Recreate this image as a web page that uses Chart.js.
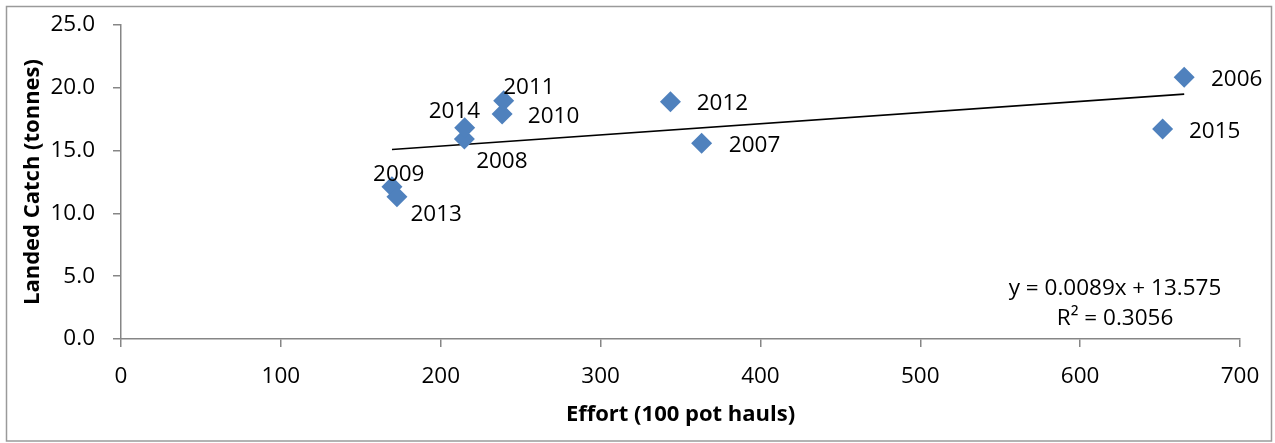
<!DOCTYPE html>
<html>
<head>
<meta charset="utf-8">
<title>Landed Catch vs Effort</title>
<script src="https://cdn.jsdelivr.net/npm/chart.js@4/dist/chart.umd.min.js"></script>
<style>
  html, body { margin: 0; padding: 0; background: #ffffff; }
  #wrap { position: relative; width: 1275px; height: 443px; }
</style>
</head>
<body>
<div id="wrap"><canvas id="c" width="1275" height="443"></canvas></div>
<script>
// Season labels and the paired effort / catch values
const years = ['2006', '2007', '2008', '2009', '2010', '2011', '2012', '2013', '2014', '2015'];
const effort = [665.1, 363.2, 214.8, 169.5, 238.4, 239.4, 343.7, 172.6, 215.0, 651.6];
const landedCatch = [20.84, 15.58, 15.92, 12.13, 17.91, 18.97, 18.89, 11.33, 16.82, 16.72];

// Linear trend fitted to the points
const trendSlope = 0.0089;
const trendIntercept = 13.575;
const trendR2 = 0.3056;

// Axis ranges
const xRange = { min: 0, max: 700, step: 100 };
const yRange = { min: 0, max: 25, step: 5 };

// Where each year label sits relative to its marker (px, centre of text)
const labelOffsets = [
  [52.5, 0.5], [53, 0.5], [37.5, 21], [6.8, -13.7], [51.5, 1],
  [25.2, -15.2], [52, 0.5], [39.3, 16.3], [-10.3, -17.7], [52, 1]
];

const FONT = "'Open Sans', 'DejaVu Sans', sans-serif";
const AXIS_GREY = '#868686';

const points = effort.map((x, i) => ({ x: x, y: landedCatch[i] }));
const xLo = Math.min(...effort), xHi = Math.max(...effort);
const trendPoints = [xLo, xHi].map(x => ({ x: x, y: trendSlope * x + trendIntercept }));

const fmt = (v, d) => v.toFixed(d);

// Outer frame around the whole chart
const framePlugin = {
  id: 'frame',
  beforeDraw(chart) {
    const ctx = chart.ctx;
    ctx.save();
    ctx.strokeStyle = '#9a9a9a';
    ctx.lineWidth = 1.5;
    ctx.strokeRect(6.5, 6.5, 1265, 434.5);
    ctx.restore();
  }
};

// Year labels beside the markers, plus the trend equation
const labelPlugin = {
  id: 'yearLabels',
  afterDatasetsDraw(chart) {
    const ctx = chart.ctx;
    const meta = chart.getDatasetMeta(1);
    ctx.save();
    ctx.fillStyle = '#000000';
    ctx.font = '22.5px ' + FONT;
    ctx.textAlign = 'center';
    ctx.textBaseline = 'alphabetic';
    meta.data.forEach((pt, i) => {
      const [dx, dy] = labelOffsets[i];
      ctx.fillText(years[i], pt.x + dx, pt.y + dy + 8);
    });
    const area = chart.chartArea;
    const cx = area.right - 125;
    ctx.fillText('y = ' + fmt(trendSlope, 4) + 'x + ' + fmt(trendIntercept, 3), cx, area.bottom - 52 + 8);
    ctx.fillText('R\u00B2 = ' + fmt(trendR2, 4), cx, area.bottom - 22 + 8);
    ctx.restore();
  }
};

new Chart(document.getElementById('c'), {
  type: 'scatter',
  data: {
    datasets: [
      {
        type: 'line',
        label: 'Linear trend',
        data: trendPoints,
        borderColor: '#000000',
        borderWidth: 1.6,
        pointRadius: 0,
        fill: false,
        order: 2
      },
      {
        label: 'Landed catch',
        data: points,
        pointStyle: 'rectRot',
        pointRadius: 10.5,
        pointHoverRadius: 10.5,
        backgroundColor: '#4F81BD',
        borderColor: '#4F81BD',
        borderWidth: 0,
        order: 1
      }
    ]
  },
  options: {
    responsive: false,
    animation: false,
    devicePixelRatio: 1,
    layout: { padding: { left: 0, top: 25, right: 35, bottom: 0 } },
    plugins: {
      legend: { display: false },
      tooltip: { enabled: false }
    },
    scales: {
      x: {
        type: 'linear',
        min: xRange.min,
        max: xRange.max,
        afterFit(scale) {
          scale.height = 104;
          scale.paddingLeft = 0;
          scale.paddingRight = 0;
        },
        border: { display: true, color: AXIS_GREY, width: 1.5 },
        grid: { drawOnChartArea: false, drawTicks: true, tickLength: 8, color: AXIS_GREY, lineWidth: 1.5 },
        ticks: {
          stepSize: xRange.step,
          padding: 16,
          color: '#000000',
          font: { family: FONT, size: 22.5 },
          maxRotation: 0,
          callback: v => fmt(v, 0)
        },
        title: {
          display: true,
          text: 'Effort (100 pot hauls)',
          color: '#000000',
          font: { family: FONT, size: 22, weight: 'bold' },
          padding: { top: 0, bottom: 15 }
        }
      },
      y: {
        type: 'linear',
        min: yRange.min,
        max: yRange.max,
        afterFit(scale) {
          scale.width = 121;
          scale.paddingTop = 0;
          scale.paddingBottom = 0;
        },
        border: { display: true, color: AXIS_GREY, width: 1.5 },
        grid: { drawOnChartArea: false, drawTicks: true, tickLength: 8, color: AXIS_GREY, lineWidth: 1.5 },
        ticks: {
          stepSize: yRange.step,
          padding: 18,
          color: '#000000',
          font: { family: FONT, size: 22.5 },
          callback: v => fmt(v, 1)
        },
        title: {
          display: true,
          text: 'Landed Catch (tonnes)',
          color: '#000000',
          font: { family: FONT, size: 22, weight: 'bold' },
          padding: { top: 20, bottom: 0 }
        }
      }
    }
  },
  plugins: [framePlugin, labelPlugin]
});
</script>
</body>
</html>
